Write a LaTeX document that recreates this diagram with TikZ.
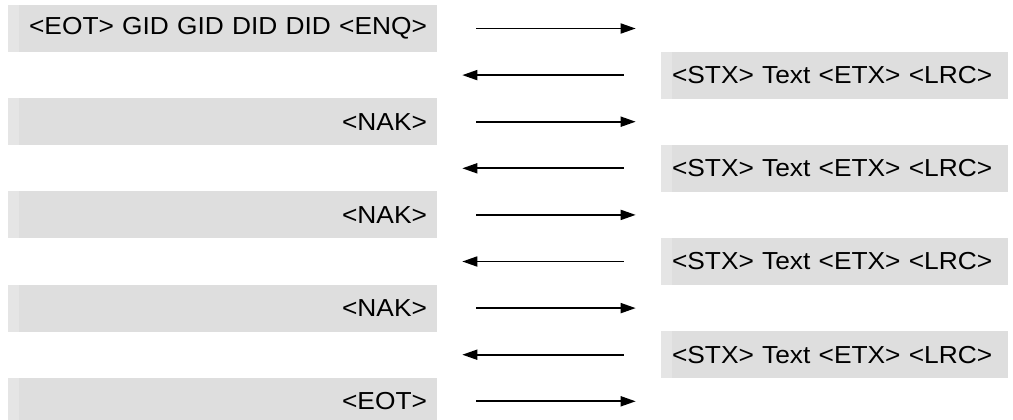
\documentclass[tikz,border=0pt]{standalone}
\usepackage{fontspec}
\usepackage{xcolor}
\usepackage{tikz}
\usetikzlibrary{arrows.meta}
\newfontfamily\framefont{Liberation Sans}[FakeStretch=1.07]
\definecolor{framegray}{RGB}{222,222,222}
\definecolor{framestrip}{RGB}{229,229,229}
\tikzset{
  frame/.style={fill=framegray, minimum height=0.94cm, inner ysep=0pt,
    font=\framefont\fontsize{14pt}{16pt}\selectfont,
    path picture={\fill[framestrip] (path picture bounding box.south west)
      rectangle ([xshift=0.22cm]path picture bounding box.north west);}},
  hostframe/.style={frame, minimum width=8.58cm, text width=8.18cm, inner xsep=0.2cm, align=right},
  devframe/.style={frame, minimum width=6.94cm, text width=6.5cm, inner xsep=0.22cm, align=left},
  msg/.style={line width=1pt, -{Triangle[length=0.3cm,width=0.2cm]}}
}

\begin{document}
\begin{tikzpicture}[x=0.02cm, y=-0.02cm]
\useasboundingbox (0,0) rectangle (1013,419);
%draw host frames (left)
\node[hostframe] (a1) at (222.5,28.5)  {\mbox{<EOT> GID GID DID DID <ENQ>}};
\node[hostframe] (a3) at (222.5,121.7) {\mbox{<NAK>}};
\node[hostframe] (a5) at (222.5,214.9) {\mbox{<NAK>}};
\node[hostframe] (a7) at (222.5,308.1) {\mbox{<NAK>}};
\node[hostframe] (a9) at (222.5,401.3) {\mbox{<EOT>}};
%draw device frames (right)
\foreach \k/\y in {2/75.1, 4/168.3, 6/261.5, 8/354.7}{
   \node[devframe] (b\k) at (834.5,\y) {\mbox{<STX> Text <ETX> <LRC>}};
}
%draw arrows
\draw[msg] ([xshift=0.78cm]a1.east) -- ([xshift=-0.5cm]a1.east -| b2.west);
\draw[msg] ([xshift=-0.74cm]b2.west) -- ([xshift=0.5cm]b2.west -| a1.east);
\draw[msg] ([xshift=0.78cm]a3.east) -- ([xshift=-0.5cm]a3.east -| b2.west);
\draw[msg] ([xshift=-0.74cm]b4.west) -- ([xshift=0.5cm]b4.west -| a1.east);
\draw[msg] ([xshift=0.78cm]a5.east) -- ([xshift=-0.5cm]a5.east -| b2.west);
\draw[msg] ([xshift=-0.74cm]b6.west) -- ([xshift=0.5cm]b6.west -| a1.east);
\draw[msg] ([xshift=0.78cm]a7.east) -- ([xshift=-0.5cm]a7.east -| b2.west);
\draw[msg] ([xshift=-0.74cm]b8.west) -- ([xshift=0.5cm]b8.west -| a1.east);
\draw[msg] ([xshift=0.78cm]a9.east) -- ([xshift=-0.5cm]a9.east -| b2.west);
\end{tikzpicture}
\end{document}
